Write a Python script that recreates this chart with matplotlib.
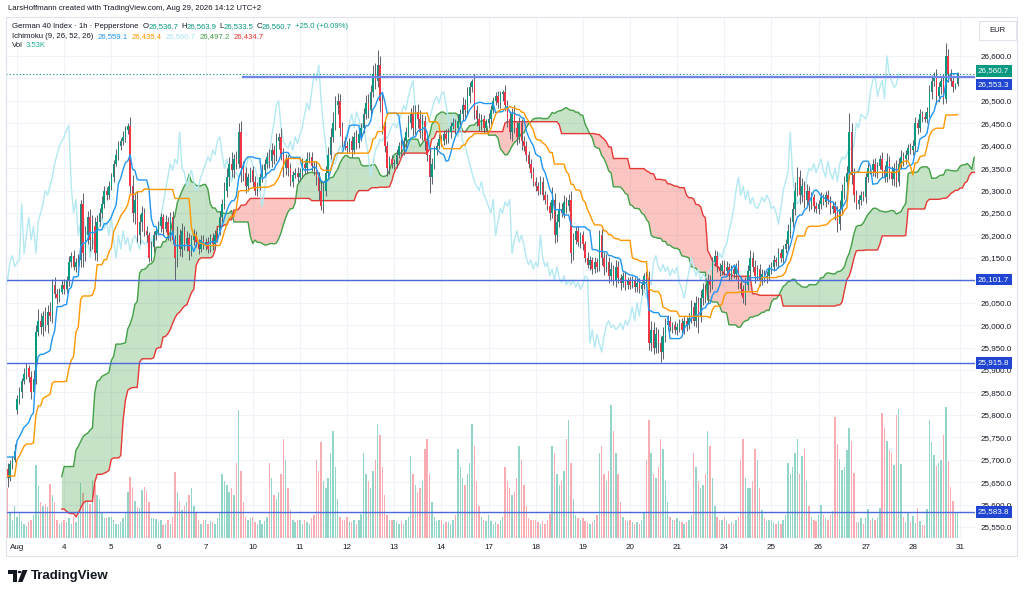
import numpy as np
import pandas as pd
import matplotlib
matplotlib.use("Agg")
import matplotlib.pyplot as plt
from matplotlib.patches import Rectangle, Polygon, Circle

plt.rcParams['font.family'] = ['Liberation Sans', 'DejaVu Sans']

# ---------------- data (hourly bars, 20 per session) ----------------
# hidden history before the visible window (needed by the Ichimoku windows)
pre_close = [25840, 25860, 25850, 25835, 25845, 25820, 25800, 25780,
             25760, 25730, 25700, 25680, 25650, 25610, 25580, 25560, 25520, 25490, 25470, 25440, 25420, 25380, 25360, 25330, 25320,
             25480, 25570, 25600, 25630, 25610, 25640, 25620, 25650, 25630,
             25600, 25620, 25580, 25590, 25570, 25610, 25640, 25620, 25660, 25650, 25680,
             25700, 25720, 25690, 25740, 25760, 25730, 25700, 25680]
pre_up = [12, 20, 10, 12, 10, 15, 12, 10,
          12, 10, 15, 12, 10, 15, 12, 10, 15, 12, 10, 15, 12, 10, 12, 15, 8,
          10, 15, 12, 10, 15, 12, 10, 12, 15,
          12, 10, 15, 12, 10, 12, 15, 10, 12, 10, 15,
          12, 15, 10, 15, 12, 10, 12, 10]
pre_dn = [10, 12, 15, 10, 12, 10, 15, 12,
          10, 12, 15, 10, 12, 15, 12, 10, 15, 12, 10, 15, 12, 10, 15, 12, 20,
          10, 12, 15, 10, 12, 15, 10, 12, 10,
          12, 15, 10, 12, 15, 10, 12, 10, 15, 12, 10,
          10, 12, 15, 10, 12, 10, 15, 12]

# last four bars of Jul 31 (visible at the left edge)
jul31_close = [25660, 25690, 25700, 25720]
jul31_up = [12, 10, 8, 15]
jul31_dn = [20, 8, 10, 6]
jul31_vol = [7.0, 3.5, 2.5, 4.5]

day_labels = ['Aug', '4', '5', '6', '7', '10', '11', '12', '13', '14', '17', '18',
              '19', '20', '21', '24', '25', '26', '27', '28', '31']

day_close = [
    [25835, 25850, 25875, 25890, 25905, 25885, 25850, 25880, 25985, 26010, 25995, 26020, 26000, 26030, 26020, 26090, 26070, 26060, 26075, 26090],
    [26080, 26100, 26140, 26155, 26130, 26140, 26145, 26270, 26160, 26200, 26240, 26190, 26220, 26160, 26230, 26250, 26270, 26300, 26290, 26310],
    [26330, 26360, 26380, 26400, 26410, 26420, 26435, 26445, 26310, 26250, 26280, 26200, 26230, 26250, 26210, 26200, 26150, 26175, 26200, 26210],
    [26220, 26240, 26215, 26230, 26200, 26240, 26190, 26150, 26200, 26170, 26210, 26180, 26195, 26165, 26190, 26200, 26185, 26170, 26190, 26180],
    [26185, 26170, 26195, 26180, 26200, 26210, 26240, 26270, 26300, 26330, 26360, 26345, 26370, 26360, 26430, 26350, 26340, 26310, 26330, 26345],
    [26320, 26300, 26310, 26330, 26345, 26360, 26375, 26365, 26390, 26380, 26410, 26420, 26380, 26350, 26370, 26350, 26320, 26335, 26340, 26330],
    [26340, 26360, 26350, 26370, 26375, 26355, 26350, 26330, 26300, 26265, 26300, 26340, 26380, 26420, 26450, 26490, 26500, 26440, 26410, 26400],
    [26395, 26410, 26390, 26420, 26405, 26425, 26440, 26470, 26495, 26480, 26520, 26560, 26545, 26580, 26500, 26445, 26400, 26350, 26370, 26360],
    [26360, 26380, 26400, 26390, 26410, 26430, 26450, 26470, 26440, 26475, 26460, 26430, 26455, 26410, 26380, 26330, 26360, 26390, 26400, 26415],
    [26410, 26425, 26415, 26430, 26445, 26450, 26440, 26455, 26470, 26490, 26480, 26510, 26530, 26545, 26480, 26460, 26445, 26460, 26440, 26450],
    [26460, 26480, 26500, 26510, 26495, 26515, 26520, 26490, 26460, 26430, 26470, 26440, 26420, 26450, 26410, 26400, 26380, 26360, 26340, 26320],
    [26310, 26300, 26320, 26290, 26280, 26265, 26250, 26280, 26200, 26230, 26260, 26250, 26275, 26265, 26280, 26160, 26190, 26210, 26185, 26200],
    [26180, 26150, 26135, 26145, 26125, 26140, 26130, 26200, 26150, 26130, 26140, 26110, 26125, 26100, 26130, 26105, 26095, 26110, 26090, 26100],
    [26090, 26100, 26085, 26095, 26080, 26090, 26110, 26105, 25960, 25990, 25950, 25980, 25960, 25940, 25975, 26000, 26010, 25995, 26000, 25990],
    [25995, 26005, 25990, 26010, 26000, 26015, 26040, 26010, 26050, 26020, 26060, 26080, 26060, 26100, 26090, 26140, 26155, 26130, 26120, 26135],
    [26120, 26130, 26110, 26125, 26115, 26130, 26095, 26080, 26060, 26090, 26120, 26150, 26130, 26110, 26125, 26100, 26115, 26105, 26110, 26125],
    [26130, 26145, 26140, 26160, 26150, 26170, 26180, 26210, 26230, 26260, 26300, 26330, 26290, 26310, 26280, 26300, 26270, 26285, 26265, 26260],
    [26270, 26285, 26275, 26290, 26280, 26260, 26265, 26250, 26225, 26260, 26300, 26320, 26340, 26430, 26335, 26290, 26270, 26280, 26290, 26285],
    [26330, 26350, 26345, 26360, 26340, 26355, 26370, 26345, 26330, 26365, 26340, 26325, 26350, 26320, 26360, 26375, 26370, 26380, 26395, 26390],
    [26400, 26450, 26440, 26470, 26465, 26460, 26475, 26520, 26545, 26555, 26510, 26530, 26545, 26505, 26600, 26560, 26545, 26530, 26536.7, 26560.7],
]

day_up = [
    [10, 12, 8, 15, 10, 6, 12, 20, 15, 25, 18, 12, 20, 15, 22, 12, 18, 10, 8, 10],
    [12, 10, 15, 8, 12, 10, 14, 10, 25, 20, 15, 18, 25, 20, 15, 12, 18, 10, 8, 12],
    [10, 8, 12, 10, 8, 12, 10, 5, 20, 25, 15, 20, 18, 15, 12, 10, 8, 12, 10, 8],
    [12, 10, 8, 15, 10, 12, 15, 10, 20, 15, 18, 12, 15, 10, 12, 15, 10, 8, 12, 10],
    [10, 12, 8, 10, 12, 8, 15, 12, 18, 20, 15, 25, 12, 18, 21, 25, 15, 12, 10, 8],
    [10, 12, 8, 10, 15, 10, 12, 18, 15, 12, 18, 8, 20, 15, 12, 10, 12, 8, 10, 12],
    [10, 12, 8, 15, 10, 12, 10, 15, 12, 18, 20, 15, 18, 20, 25, 20, 17, 15, 12, 10],
    [10, 8, 12, 10, 15, 12, 10, 15, 18, 20, 15, 20, 25, 33, 20, 15, 12, 10, 8, 10],
    [10, 12, 8, 15, 10, 12, 18, 15, 20, 15, 18, 20, 15, 12, 10, 15, 12, 10, 8, 10],
    [8, 10, 12, 10, 8, 12, 10, 15, 12, 18, 15, 20, 12, 3, 15, 10, 12, 10, 8, 10],
    [12, 10, 8, 10, 12, 8, 4, 15, 12, 18, 15, 20, 12, 15, 10, 12, 10, 8, 10, 12],
    [10, 8, 12, 10, 8, 12, 10, 28, 15, 18, 15, 12, 15, 10, 12, 20, 15, 12, 10, 8],
    [10, 8, 12, 10, 8, 12, 10, 12, 15, 12, 18, 12, 15, 10, 15, 12, 10, 8, 10, 8],
    [8, 10, 8, 12, 10, 8, 6, 11, 15, 20, 18, 15, 12, 15, 20, 15, 12, 10, 8, 10],
    [10, 8, 12, 10, 8, 12, 15, 12, 15, 12, 18, 15, 12, 15, 12, 12, 12, 10, 8, 10],
    [10, 12, 8, 10, 12, 8, 15, 12, 10, 18, 15, 17, 12, 15, 10, 12, 10, 8, 10, 12],
    [10, 12, 8, 12, 10, 8, 12, 15, 11, 15, 20, 23, 15, 18, 12, 15, 10, 12, 8, 10],
    [10, 12, 8, 10, 12, 8, 10, 12, 15, 18, 15, 12, 15, 43, 20, 15, 12, 10, 8, 10],
    [10, 12, 8, 10, 12, 8, 10, 15, 12, 18, 12, 15, 12, 18, 12, 15, 12, 10, 8, 10],
    [12, 15, 10, 12, 8, 10, 12, 15, 12, 10, 15, 12, 10, 15, 29, 15, 12, 10, 3, 3.2],
]

day_dn = [
    [8, 10, 12, 6, 10, 12, 15, 10, 12, 10, 15, 20, 12, 18, 10, 15, 10, 12, 8, 6],
    [10, 8, 12, 10, 8, 12, 10, 15, 30, 18, 20, 25, 20, 15, 18, 10, 12, 8, 10, 8],
    [8, 10, 6, 12, 10, 8, 12, 10, 15, 20, 25, 15, 18, 20, 12, 15, 10, 8, 12, 10],
    [10, 12, 15, 8, 10, 12, 10, 50, 20, 15, 18, 12, 15, 20, 10, 12, 10, 12, 8, 10],
    [12, 10, 8, 12, 10, 15, 8, 10, 12, 15, 20, 15, 18, 12, 10, 30, 18, 15, 10, 12],
    [15, 10, 12, 8, 10, 12, 10, 15, 12, 20, 15, 18, 12, 20, 15, 18, 10, 12, 8, 10],
    [8, 10, 12, 10, 8, 12, 15, 18, 20, 8, 15, 12, 15, 10, 12, 15, 20, 18, 12, 10],
    [12, 10, 15, 8, 12, 10, 15, 12, 10, 18, 15, 12, 18, 15, 25, 20, 15, 18, 12, 10],
    [12, 10, 8, 12, 10, 15, 10, 12, 18, 15, 20, 12, 18, 20, 15, 36, 15, 12, 10, 8],
    [10, 8, 12, 10, 12, 8, 15, 10, 12, 15, 18, 12, 15, 10, 20, 15, 12, 10, 12, 8],
    [10, 12, 8, 10, 12, 10, 15, 12, 18, 15, 20, 12, 18, 15, 20, 12, 15, 10, 12, 10],
    [12, 10, 8, 12, 10, 8, 15, 12, 17, 15, 12, 10, 12, 15, 10, 22, 15, 10, 8, 12],
    [12, 10, 8, 12, 10, 8, 12, 10, 15, 18, 12, 15, 12, 10, 15, 12, 17, 10, 12, 10],
    [10, 8, 12, 10, 8, 12, 10, 12, 15, 18, 15, 12, 22, 22, 15, 12, 10, 8, 12, 10],
    [12, 10, 8, 10, 12, 8, 10, 12, 15, 38, 12, 15, 10, 12, 15, 10, 8, 12, 10, 8],
    [8, 10, 12, 8, 10, 12, 15, 12, 11, 15, 12, 10, 12, 15, 10, 12, 10, 8, 12, 10],
    [12, 10, 8, 12, 10, 12, 10, 12, 15, 12, 15, 12, 20, 15, 18, 12, 15, 10, 12, 10],
    [12, 10, 8, 12, 10, 12, 10, 15, 17, 12, 15, 18, 12, 15, 20, 15, 12, 10, 12, 8],
    [12, 10, 8, 12, 10, 12, 8, 15, 12, 10, 15, 12, 15, 12, 10, 12, 15, 10, 12, 8],
    [10, 12, 15, 10, 12, 8, 10, 12, 15, 12, 18, 12, 15, 12, 10, 18, 12, 10, 3.2, 3.2],
]

# volume in thousands
day_vol = [
    [3.0, 3.5, 2.4, 2.0, 1.7, 2.3, 2.6, 3.2, 10.3, 7.3, 5.0, 4.5, 4.8, 4.3, 7.6, 6.0, 5.0, 2.5, 2.0, 2.2],
    [2.5, 2.2, 2.8, 2.0, 3.0, 2.2, 3.2, 7.7, 6.3, 5.0, 5.3, 4.8, 8.1, 7.5, 6.0, 5.5, 3.5, 2.8, 2.8, 3.0],
    [3.0, 2.5, 2.0, 2.0, 2.2, 2.8, 3.5, 6.5, 8.6, 7.2, 5.2, 4.3, 4.2, 6.8, 7.2, 6.6, 5.0, 2.8, 2.8, 2.7],
    [2.2, 2.5, 1.8, 2.0, 2.5, 2.0, 3.0, 9.3, 6.5, 5.2, 4.0, 4.5, 5.0, 6.0, 7.0, 4.5, 3.5, 2.5, 2.0, 2.5],
    [2.5, 2.0, 2.4, 2.2, 2.0, 2.8, 3.5, 9.0, 8.0, 7.5, 6.5, 7.0, 6.0, 10.5, 18.0, 9.5, 5.0, 3.0, 2.5, 2.8],
    [3.0, 2.2, 2.0, 2.5, 2.0, 2.4, 3.0, 10.5, 8.5, 6.0, 5.5, 6.5, 9.0, 14.0, 11.0, 7.0, 4.0, 2.5, 2.2, 2.5],
    [2.5, 2.0, 2.6, 2.2, 2.0, 2.8, 3.2, 11.0, 9.5, 13.5, 8.0, 7.0, 8.5, 12.0, 15.0, 10.0, 5.5, 3.0, 2.5, 2.6],
    [3.0, 2.4, 2.2, 2.5, 2.0, 2.6, 3.4, 12.0, 9.0, 8.0, 7.0, 9.5, 11.0, 16.0, 14.5, 10.0, 6.0, 3.2, 2.6, 2.5],
    [2.6, 2.2, 2.0, 2.4, 2.0, 2.5, 3.0, 11.5, 9.0, 7.5, 6.5, 7.0, 8.0, 12.5, 14.0, 9.0, 5.0, 3.0, 2.4, 2.6],
    [2.5, 2.0, 2.3, 2.2, 2.0, 2.6, 3.2, 12.5, 10.0, 8.5, 7.5, 9.0, 10.5, 16.0, 13.0, 8.0, 4.5, 3.0, 2.5, 2.4],
    [3.2, 2.4, 2.0, 2.2, 2.0, 2.5, 3.0, 10.0, 8.0, 7.0, 6.0, 6.5, 8.5, 13.0, 11.0, 7.5, 4.5, 2.8, 2.5, 2.6],
    [2.6, 2.2, 2.0, 2.4, 2.0, 2.6, 3.4, 13.0, 12.0, 9.0, 7.5, 8.0, 9.5, 14.0, 16.6, 10.5, 5.5, 3.2, 2.8, 2.5],
    [2.8, 2.4, 2.2, 2.0, 2.2, 2.6, 3.2, 12.0, 13.0, 9.0, 8.0, 9.5, 18.7, 15.0, 12.0, 9.0, 5.0, 3.0, 2.6, 2.4],
    [2.5, 2.2, 2.0, 2.3, 2.0, 2.6, 3.5, 11.0, 16.6, 12.0, 9.0, 8.5, 10.0, 14.0, 12.5, 8.0, 5.0, 3.0, 2.6, 2.5],
    [2.8, 2.4, 2.2, 2.0, 2.2, 2.5, 3.2, 12.0, 10.0, 8.0, 7.0, 7.5, 9.0, 15.0, 13.0, 8.5, 4.5, 3.0, 2.5, 2.6],
    [3.0, 2.4, 2.0, 2.2, 2.0, 2.6, 3.0, 11.0, 14.0, 8.5, 7.0, 7.0, 8.0, 12.5, 11.0, 7.0, 4.0, 2.8, 2.4, 2.5],
    [2.6, 2.2, 2.0, 2.4, 2.0, 2.6, 3.2, 10.5, 9.0, 10.0, 12.0, 14.0, 9.0, 11.5, 12.5, 8.0, 4.5, 3.0, 2.5, 2.4],
    [3.2, 4.6, 3.2, 2.8, 2.6, 3.2, 3.8, 17.0, 13.2, 11.1, 9.6, 10.0, 12.4, 15.5, 13.7, 9.2, 2.3, 2.2, 2.8, 2.0],
    [2.8, 4.1, 2.5, 2.8, 2.5, 2.8, 4.2, 17.6, 15.5, 13.7, 12.4, 12.0, 10.3, 17.3, 18.2, 10.4, 3.0, 2.3, 3.5, 2.3],
    [3.1, 2.1, 4.2, 2.4, 1.8, 1.8, 4.1, 16.6, 13.5, 11.7, 10.1, 10.6, 11.0, 14.5, 18.5, 10.8, 7.2, 5.2, 3.7, 3.53],
]

gap_open = {0: 25810}          # Aug 3 opens above the Jul 31 close
level_lines = [26101.7, 25915.8, 25583.8]
ray_level = 26553.3
ray_start = 96                 # bar where the drawn ray begins
last_price = 26560.7

# ---------------- build series ----------------
close = np.array(pre_close + jul31_close + sum(day_close, []), float)
up = np.array(pre_up + jul31_up + sum(day_up, []), float)
dn = np.array(pre_dn + jul31_dn + sum(day_dn, []), float)
n_hidden = len(pre_close) + len(jul31_close)
bar = np.arange(len(close)) - n_hidden          # 0 = first bar of Aug 3

opens = np.r_[close[0], close[:-1]]
for k, v in gap_open.items():
    opens[k + n_hidden] = v
high = np.maximum(opens, close) + up
low = np.minimum(opens, close) - dn

H = pd.Series(high)
L = pd.Series(low)


def donchian_mid(n):
    return ((H.rolling(n).max() + L.rolling(n).min()) / 2).values


tenkan = donchian_mid(9)
kijun = donchian_mid(26)
span_a = (tenkan + kijun) / 2
span_b = donchian_mid(52)
disp = 25

vis = bar >= -len(jul31_close)
vol = np.array(jul31_vol + sum(day_vol, []), float)

# ---------------- figure ----------------
W, Hpx = 1024, 594
fig = plt.figure(figsize=(W / 100, Hpx / 100), dpi=100)
fig.patch.set_facecolor('white')


def fx(x):
    return x / W


def fy(y):
    return 1 - y / Hpx


rect = [fx(6), fy(538), fx(975) - fx(6), fy(18) - fy(538)]
ax_vol = fig.add_axes(rect)
ax = fig.add_axes(rect)
ax.patch.set_alpha(0)

xlim = ((6 - 17) / 2.3575, (975 - 17) / 2.3575)
ylim = (25525.5, 26684.7)
for a in (ax, ax_vol):
    a.set_xlim(*xlim)
    for s in a.spines.values():
        s.set_visible(False)
ax.set_ylim(*ylim)
ax_vol.set_ylim(0, 73.2)
ax_vol.set_xticks([])
ax_vol.set_yticks([])

UP, DN = '#089981', '#F23645'
GRID = '#f0f3fa'

# grid (drawn under volume)
day_ticks = np.arange(len(day_labels)) * 20
price_ticks = np.arange(25550, 26650, 50)
ax_vol.vlines(day_ticks, 0, 73.2, color=GRID, lw=0.8, zorder=0)
ax_vol.hlines(price_ticks, xlim[0], xlim[1], color=GRID, lw=0.8, zorder=0,
              transform=ax.transData)

# volume
xv = bar[vis]
ov, cv = opens[vis], close[vis]
vcol = np.where(cv >= ov, '#94d5c9', '#f9adb2')
ax_vol.bar(xv, vol, width=0.6, color=vcol, linewidth=0, zorder=1)

# cloud
ok = ~np.isnan(span_b)
xs = bar[ok] + disp
A, B = span_a[ok], span_b[ok]
ax.fill_between(xs, A, B, where=A >= B, interpolate=True,
                color=(67 / 255, 160 / 255, 71 / 255, 0.3), lw=0, zorder=1)
ax.fill_between(xs, A, B, where=A < B, interpolate=True,
                color=(244 / 255, 67 / 255, 54 / 255, 0.3), lw=0, zorder=1)
ax.plot(xs, A, color='#43A047', lw=1.0, zorder=2)
ax.plot(xs, B, color='#E53935', lw=1.0, zorder=2)

# lagging span
ax.plot(bar - disp, close, color='#b4e9f2', lw=1.0, zorder=2)

# candles
hv, lv = high[vis], low[vis]
ax.vlines(xv, lv, hv, color='#5d606b', lw=0.7, zorder=3)
body_lo = np.minimum(ov, cv)
body_h = np.maximum(np.abs(cv - ov), 1.2)
ax.bar(xv, body_h, bottom=body_lo, width=0.62,
       color=np.where(cv >= ov, UP, DN), linewidth=0, zorder=3.5)

# conversion / base lines
ax.plot(bar[vis], tenkan[vis], color='#2196F3', lw=1.0, zorder=4)
ax.plot(bar[vis], kijun[vis], color='#FF9800', lw=1.0, zorder=4)

# horizontal levels
ax.axhline(last_price, color=UP, lw=0.8, ls=(0, (1, 2)), zorder=4.5)
ax.plot([ray_start, xlim[1]], [ray_level, ray_level], color='#6f86e8', lw=1.6, zorder=5)
for lv_ in level_lines:
    ax.axhline(lv_, color='#4a6ade', lw=1.0, zorder=5)

# axes ticks
ax.set_xticks(day_ticks)
ax.set_xticklabels(day_labels)
ax.set_yticks(price_ticks)
ax.set_yticklabels(['' if p in (26550, 26100) else f'{p:,.1f}' for p in price_ticks])
ax.yaxis.tick_right()
ax.tick_params(axis='y', length=0, pad=4.0, labelsize=5.8, labelcolor='#131722')
ax.tick_params(axis='x', length=0, pad=4.0, labelsize=5.8, labelcolor='#131722')

# price tags on the scale
ytr = ax.get_yaxis_transform()


def tag(text, y, fc, dy=0):
    ax.annotate(text, xy=(1.0, y), xycoords=ytr, xytext=(2.2, dy), textcoords='offset points',
                ha='left', va='center', fontsize=5.8, color='white', annotation_clip=False,
                bbox=dict(boxstyle='square,pad=0.3', fc=fc, ec='none'), zorder=10)


tag(f'{last_price:,.1f}', last_price, UP, dy=2)
tag(f'{ray_level:,.1f}', ray_level, '#1f45d2', dy=-5.5)
for lv_ in level_lines:
    tag(f'{lv_:,.1f}', lv_, '#1f45d2')

# pane border and currency box
fig.add_artist(Rectangle((fx(6), fy(556)), fx(1017) - fx(6), fy(17) - fy(556),
                         transform=fig.transFigure, fill=False, ec='#e0e3eb', lw=0.8))
fig.add_artist(Rectangle((fx(979), fy(40)), fx(37), fy(21) - fy(40),
                         transform=fig.transFigure, fill=False, ec='#e0e3eb', lw=0.8))
fig.text(fx(997.5), fy(30.5), 'EUR', fontsize=5.5, color='#131722', ha='center', va='center')

# header
DARK = '#131722'
HSIZE = 5.6
renderer = fig.canvas.get_renderer()


def text_run(x0, y, parts):
    # y is the baseline in pixels from the top
    x = x0
    for s, c, gap in parts:
        t = fig.text(fx(x), fy(y), s, fontsize=HSIZE, color=c, va='baseline')
        x = t.get_window_extent(renderer=renderer).x1 + gap


text_run(8, 10.3, [('LarsHoffmann created with TradingView.com, Aug 29, 2026 14:12 UTC+2', DARK, 0)])
text_run(12, 28.3, [('German 40 Index · 1h · Pepperstone', DARK, 4),
                    ('O', DARK, -0.3), ('26,536.7', UP, 3),
                    ('H', DARK, -0.3), ('26,563.9', UP, 3),
                    ('L', DARK, -0.3), ('26,533.5', UP, 3),
                    ('C', DARK, -0.3), ('26,560.7', UP, 3),
                    ('+25.0 (+0.09%)', UP, 0)])
text_run(12, 37.8, [('Ichimoku (9, 26, 52, 26)', DARK, 4),
                    ('26,559.1', '#2196F3', 4), ('26,435.4', '#FF9800', 4),
                    ('26,560.7', '#a9e6f0', 4), ('26,497.2', '#43A047', 4),
                    ('26,434.7', '#E53935', 0)])
text_run(12, 47.3, [('Vol', DARK, 3), ('3.53K', '#22ab94', 0)])

# TradingView logo
logo1 = [(8, 570), (16.5, 570), (16.5, 582), (12.5, 582), (12.5, 574), (8, 574)]
logo2 = [(22.5, 570), (27.5, 570), (22.5, 582), (18, 582)]
for pts in (logo1, logo2):
    fig.add_artist(Polygon([(fx(x), fy(y)) for x, y in pts], closed=True,
                           transform=fig.transFigure, fc='#131722', ec='none'))
fig.add_artist(Circle((fx(19.6), fy(572)), 2.0 / W, transform=fig.transFigure,
                      fc='#131722', ec='none'))
fig.text(fx(31), fy(576.5), 'TradingView', fontsize=9.5, fontweight='bold',
         color='#131722', va='center')

fig.savefig('out.png', dpi=100)
